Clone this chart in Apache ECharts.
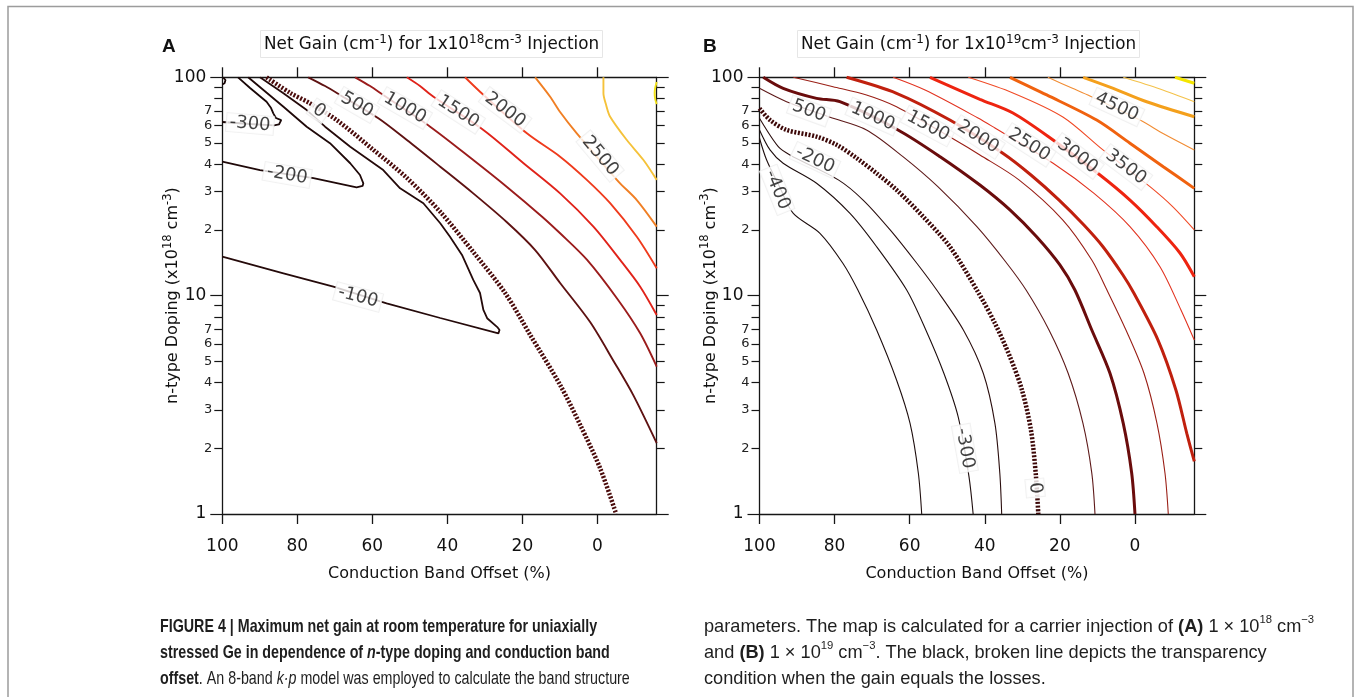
<!DOCTYPE html>
<html>
<head>
<meta charset="utf-8">
<script src="https://cdn.jsdelivr.net/npm/echarts@6/dist/echarts.min.js"></script>
<style>
  html, body { margin: 0; padding: 0; background: #fff; }
  #chart { width: 1356px; height: 697px; }
</style>
</head>
<body>
<div id="chart"></div>
<script>
// ---- axis ticks ----
const X_TICKS = [100, 80, 60, 40, 20, 0];
const Y_MAJOR = [1, 10, 100];
const Y_MINOR = [2, 3, 4, 5, 6, 7, 8, 9, 20, 30, 40, 50, 60, 70, 80, 90];
const Y_MINOR_LABELED = [2, 3, 4, 5, 6, 7, 20, 30, 40, 50, 60, 70];

// ---- panel A: 1e18 cm^-3 injection; points are [band offset %, doping 1e18 cm^-3] ----
const A_N400 = [[99.8,100],[99.15,97.2],[99.4,93.9],[100,92.7]];
const A_N300 = [[95.8,100],[92.6,89.3],[89.4,80.4],[88.2,77.3],[87.0,72.3],[86.4,68.4],[85.7,65.1],[84.3,63.7],[83.8,62.4],[84.9,60.8],[86.2,60.2],[92.6,61.1],[100,62.4]];
const A_N200 = [[100,41.1],[89.95,37.6],[75.7,34.5],[64.2,31.35],[62.6,31.8],[62.4,32.7],[63.3,35.7],[65.9,40.4],[71.3,49.9],[77.5,59.4],[83.7,73.3],[93.1,100]];
const A_N100 = [[100,15.08],[83.7,12.66],[70.4,10.99],[56.2,9.22],[41.9,7.90],[26.4,6.72],[26.1,6.96],[26.7,7.18],[29.4,7.88],[30.4,8.60],[31.3,10.28],[33.1,11.80],[36.1,15.36],[39.3,18.6],[41.9,21.45],[46.4,26.5],[52.6,31.0],[57.1,37.6],[65.9,48.1],[72.6,59.4],[77.5,70.8],[83.8,84.8],[89.95,100]];
const A_Z0 = [[88.2,100],[81.9,84.8],[76.6,76.0],[69.5,63.7],[59.7,46.5],[50.8,34.6],[41.9,24.2],[33.1,15.85],[24.6,10.28],[17.9,6.60],[9.95,3.90],[4.6,2.56],[-0.72,1.62],[-5.0,1.0]];
const A_500 = [[77.1,100],[72.6,91.2],[68.6,83.0],[58.4,64.9],[50.8,51.6],[41.9,38.96],[33.1,29.4],[24.2,21.74],[16.6,16.18],[9.95,11.43],[1.95,7.57],[-4.45,4.97],[-9.52,3.51],[-15.8,2.11]];
const A_1000 = [[64.6,100],[60.6,91.2],[57.1,83.0],[44.6,59.4],[33.1,41.8],[24.2,31.55],[14.75,23.0],[9.95,19.3],[2.75,14.57],[-5.52,9.55],[-11.4,6.72],[-15.8,4.73]];
const A_1500 = [[50.8,100],[47.3,91.2],[43.7,81.5],[30.4,57.4],[19.7,40.4],[9.95,29.4],[1.07,20.7],[-6.05,14.57],[-11.4,10.99],[-15.8,8.15]];
const A_2000 = [[35.3,100],[31.3,85.9],[18.8,55.4],[9.95,43.3],[2.83,33.9],[-3.39,26.5],[-10.5,18.6],[-15.8,13.34]];
const A_2500 = [[16.6,100],[12.6,81.5],[9.95,69.4],[5.5,55.4],[-5.6,33.3],[-10.5,27.4],[-15.8,20.7]];
const A_3000 = [[-1.6,100],[-1.6,84.5],[-2.32,74.7],[-3.39,66.0],[-7.84,51.6],[-12.27,41.8],[-15.8,33.9]];
const A_3500 = [[-15.8,95.2],[-15.39,89.3],[-15.25,84.8],[-15.39,79.6],[-15.8,75.4]];
// contour label anchors: [level, offset %, doping]
const A_LABELS = [[-300,92.6,61.1],[-200,82.7,35.7],[-100,63.8,9.86],[0,74.2,70.1],[500,64.1,74.7],[1000,51.3,72.3],[1500,37.1,69.4],[2000,24.6,70.8],[2500,-0.72,43.6]];

// ---- panel B: 1e19 cm^-3 injection ----
const B_N400 = [[100,52.6],[98.1,41.8],[94.5,31.1],[91.0,23.8],[83.9,19.3],[77.8,14.07],[73.8,10.61],[68.8,6.96],[63.5,4.11],[59.9,2.60],[57.7,1.54],[56.8,1]];
const B_N300 = [[100,57.4],[97.2,46.5],[93.7,40.4],[84.8,32.7],[75.9,23.8],[68.8,16.75],[60.8,10.61],[55.7,6.96],[50.9,4.41],[47.1,2.79],[44.2,1.48],[43.1,1]];
const B_N200 = [[100,64.9],[95.0,48.1],[91.9,44.1],[79.0,33.9],[72.4,27.4],[65.2,20.0],[58.1,14.07],[52.8,10.61],[45.7,6.96],[40.4,4.41],[37.3,2.60],[36.0,1.54],[35.5,1]];
const B_Z0 = [[100,72.1],[97.2,63.7],[92.8,57.4],[84.8,53.5],[79.4,49.0],[74.1,42.6],[68.8,36.3],[63.5,30.5],[56.4,23.0],[49.3,16.75],[41.8,10.39],[37.3,7.47],[33.3,5.25],[30.1,3.70],[27.7,2.42],[26.4,1.51],[25.75,1]];
const B_500 = [[100,89.0],[92.8,77.3],[81.2,65.6],[71.5,57.4],[61.8,43.3],[52.5,31.55],[42.1,20.7],[34.4,14.26],[29.0,10.61],[22.9,6.96],[17.8,4.41],[13.85,2.60],[11.5,1.54],[10.65,1]];
const B_1000 = [[99.0,100],[93.7,89.0],[84.8,80.1],[78.6,77.3],[63.1,57.4],[51.9,43.3],[41.3,32.1],[33.3,24.7],[26.2,18.6],[20.0,13.82],[16.0,10.61],[11.5,6.96],[6.66,4.41],[3.12,2.60],[0.88,1.54],[0,1]];
const B_1500 = [[91.0,100],[80.4,90.6],[71.5,83.0],[63.5,73.3],[47.9,51.6],[41.3,44.1],[30.9,33.9],[19.2,22.2],[11.5,14.57],[7.46,10.61],[2.40,6.96],[-2.40,4.41],[-5.86,2.60],[-7.99,1.54],[-8.87,1]];
const B_2000 = [[76.8,100],[63.5,84.5],[49.3,63.7],[35.2,44.9],[27.7,35.7],[20.2,27.4],[13.6,21.06],[8.52,16.75],[3.20,12.43],[0.27,10.25],[-6.13,6.26],[-10.9,3.70],[-13.8,2.34],[-15.8,1.74]];
const B_2500 = [[64.4,100],[55.9,87.4],[41.8,65.1],[37.3,58.6],[21.8,40.4],[10.9,29.4],[1.33,20.7],[-6.66,13.57],[-12.25,8.60],[-15.8,6.26]];
const B_3000 = [[54.6,100],[41.3,79.3],[32.5,68.6],[21.8,51.6],[9.32,35.7],[1.33,27.4],[-5.78,20.7],[-11.98,15.68],[-15.8,12.21]];
const B_3500 = [[44.4,100],[32.5,84.8],[19.2,65.8],[8.52,46.5],[-3.99,31.55],[-10.1,25.5],[-15.8,20.0]];
const B_4000 = [[33.3,100],[23.5,83.0],[10.2,63.7],[1.33,49.9],[-7.54,38.96],[-15.8,31.0]];
const B_4500 = [[23.2,100],[16.8,89.3],[12.0,82.1],[-1.33,63.7],[-7.72,55.0],[-15.8,46.5]];
const B_5000 = [[13.8,100],[5.78,89.0],[-3.12,77.3],[-15.8,66.0]];
const B_5500 = [[3.12,100],[-6.66,88.4],[-15.8,77.3]];
const B_6000 = [[-10.65,100],[-15.8,93.9]];
const B_LABELS = [[-400,95.3,30.5],[-300,45.3,2.0],[-200,85.2,41.8],[0,26.6,1.316],[500,86.8,70.1],[1000,69.8,66.1],[1500,55.1,59.8],[2000,41.8,53.3],[2500,28.2,49.0],[3000,15.3,43.6],[3500,2.4,38.8],[4500,4.8,73.1]];

// ---- styling ----
const FONT = "'DejaVu Sans', sans-serif";
const SANS = "'Liberation Sans', Arial, sans-serif";
const AX = '#161616';
const X_MIN = -15.8, X_MAX = 100;

const COLOR_A = {'-400':'#1a0808','-300':'#1a0808','-200':'#1f0909','-100':'#250a0a','0':'#4a0b0b','500':'#5e1212','1000':'#9b1c1c','1500':'#e0231a','2000':'#ef3b1d','2500':'#f07f24','3000':'#f5c23a','3500':'#f2e21a'};
const COLOR_B = {'-400':'#1e0e0e','-300':'#1e0e0e','-200':'#2a0e0e','0':'#3d0808','500':'#5e1a1a','1000':'#6a0c0c','1500':'#9a1f16','2000':'#c0200e','2500':'#e2321f','3000':'#ee2410','3500':'#f04a26','4000':'#f0620f','4500':'#f18c33','5000':'#f4a01c','5500':'#f4c24a','6000':'#f5e600'};
const ROT_A = {'-300':-5,'-200':-10,'-100':-15,'0':-35,'500':-30,'1000':-30,'1500':-33,'2000':-37,'2500':-50};
const ROT_B = {'-400':-68,'-300':-80,'-200':-25,'0':-85,'500':-20,'1000':-24,'1500':-28,'2000':-33,'2500':-33,'3000':-37,'3500':-37,'4500':-25};

const A_CONTOURS = [[-400,A_N400],[-300,A_N300],[-200,A_N200],[-100,A_N100],[0,A_Z0],[500,A_500],[1000,A_1000],[1500,A_1500],[2000,A_2000],[2500,A_2500],[3000,A_3000],[3500,A_3500]];
const B_CONTOURS = [[-400,B_N400],[-300,B_N300],[-200,B_N200],[0,B_Z0],[500,B_500],[1000,B_1000],[1500,B_1500],[2000,B_2000],[2500,B_2500],[3000,B_3000],[3500,B_3500],[4000,B_4000],[4500,B_4500],[5000,B_5000],[5500,B_5500],[6000,B_6000]];

function lineStyleFor(panel, level) {
  const col = (panel === 0 ? COLOR_A : COLOR_B)[String(level)];
  if (level === 0) return { color: col, width: 4.5, type: [2, 1.6], cap: 'butt' };
  if (panel === 0) return { color: col, width: level < 0 ? 1.8 : 1.9 };
  const thick = level > 0 && level % 1000 === 0;
  return { color: col, width: thick ? 3 : 1.1 };
}

function contourSeries(panel, list) {
  return list.map(([level, pts]) => ({
    type: 'line', name: 'g' + panel + '_' + level,
    xAxisIndex: 2 * panel, yAxisIndex: 4 * panel,
    data: pts, symbol: 'none', showSymbol: false,
    smooth: (panel === 0 && level < 0) ? false : 0.3,
    lineStyle: lineStyleFor(panel, level),
    silent: true, clip: true, z: 3, animation: false
  }));
}

function labelSeries(panel, labels, rots) {
  return {
    type: 'scatter', xAxisIndex: 2 * panel, yAxisIndex: 4 * panel,
    symbolSize: 1, itemStyle: { color: 'rgba(0,0,0,0)' }, silent: true, z: 10, animation: false,
    data: labels.map(([lv, x, y]) => ({ value: [x, y], label: { formatter: String(lv), rotate: rots[String(lv)] } })),
    label: {
      show: true, position: 'inside', fontSize: 18, color: '#111', fontFamily: FONT,
      backgroundColor: '#fff', borderColor: '#ededed', borderWidth: 1, padding: [0, 3]
    }
  };
}

const SUP_RICH = {
  m: { fontSize: 16, fontFamily: FONT, fontWeight: 'normal', color: '#111', lineHeight: 22 },
  s: { fontSize: 11.5, fontFamily: FONT, fontWeight: 'normal', color: '#111', lineHeight: 13, verticalAlign: 'top' }
};
const TITLE_RICH = {
  m: { fontSize: 16.8, fontFamily: FONT, fontWeight: 'normal', color: '#111', lineHeight: 22 },
  s: { fontSize: 12, fontFamily: FONT, fontWeight: 'normal', color: '#111', lineHeight: 13, verticalAlign: 'top' }
};

function xAxes(g) {
  const base = {
    gridIndex: g, type: 'value', min: X_MIN, max: X_MAX, inverse: true,
    splitLine: { show: false },
    axisLine: { show: true, onZero: false, lineStyle: { color: AX, width: 1.3 } },
    axisTick: { show: true, customValues: X_TICKS, length: 10, lineStyle: { color: AX, width: 1.3 } }
  };
  return [
    Object.assign({}, base, {
      position: 'bottom',
      axisLabel: { show: true, customValues: X_TICKS, fontSize: 17, color: '#111', fontFamily: FONT, margin: 24 },
      name: 'Conduction Band Offset (%)', nameLocation: 'middle', nameGap: 52, nameMoveOverlap: false,
      nameTextStyle: { fontSize: 16, color: '#111', fontFamily: FONT }
    }),
    Object.assign({}, base, { position: 'top', axisLabel: { show: false } })
  ];
}

function yAxes(g) {
  const base = { gridIndex: g, type: 'log', logBase: 10, min: 1, max: 100, splitLine: { show: false } };
  const line = { show: true, onZero: false, lineStyle: { color: AX, width: 1.3 } };
  const tickStyle = { color: AX, width: 1.2 };
  return [
    Object.assign({}, base, {
      position: 'left', axisLine: line,
      axisTick: { show: true, customValues: Y_MAJOR, length: 12, lineStyle: tickStyle },
      axisLabel: { show: true, customValues: Y_MAJOR, fontSize: 17, color: '#111', fontFamily: FONT, margin: 16,
                   formatter: v => String(Math.round(v)) },
      name: '{m|n-type Doping (x10}{s|18}{m| cm}{s|-3}{m|)}', nameLocation: 'middle', nameRotate: 90, nameGap: 38,
      nameMoveOverlap: false,
      nameTextStyle: { rich: SUP_RICH }
    }),
    Object.assign({}, base, {
      position: 'left', axisLine: { show: false, onZero: false },
      axisTick: { show: true, customValues: Y_MINOR, length: 8, lineStyle: tickStyle },
      axisLabel: { show: true, customValues: Y_MINOR_LABELED, fontSize: 13, color: '#222', fontFamily: FONT, margin: 10,
                   formatter: v => { const r = Math.round(v); return String(r < 10 ? r : r / 10); } }
    }),
    Object.assign({}, base, {
      position: 'right', axisLine: line,
      axisTick: { show: true, customValues: Y_MAJOR, length: 12, lineStyle: tickStyle },
      axisLabel: { show: false }
    }),
    Object.assign({}, base, {
      position: 'right', axisLine: { show: false, onZero: false },
      axisTick: { show: true, customValues: Y_MINOR, length: 8, lineStyle: tickStyle },
      axisLabel: { show: false }
    })
  ];
}

function panelTitle(left, inj) {
  return {
    left: left, top: 30, padding: [4, 4],
    text: '{m|Net Gain (cm}{s|-1}{m|) for 1x10}{s|' + inj + '}{m|cm}{s|-3}{m| Injection}',
    textStyle: { fontWeight: 'normal', rich: TITLE_RICH },
    backgroundColor: '#fff', borderColor: '#e6e6e6', borderWidth: 1
  };
}

const CAP_L = '{b|FIGURE 4 | Maximum net gain at room temperature for uniaxially}\n' +
              '{b|stressed Ge in dependence of }{bi|n}{b|-type doping and conduction band}\n' +
              '{b|offset}{r|. An 8-band }{i|k\u00b7p}{r| model was employed to calculate the band structure}';
const CAP_R = '{r|parameters. The map is calculated for a carrier injection of }{b|(A)}{r| 1 \u00d7 10}{s|18}{r| cm}{s|\u22123}\n' +
              '{r|and }{b|(B)}{r| 1 \u00d7 10}{s|19}{r| cm}{s|\u22123}{r|. The black, broken line depicts the transparency}\n' +
              '{r|condition when the gain equals the losses.}';

function capRich(size) {
  const c = '#1e1e1e';
  return {
    b: { fontFamily: SANS, fontSize: size, fontWeight: 'bold', fill: c, lineHeight: 26 },
    bi: { fontFamily: SANS, fontSize: size, fontWeight: 'bold', fontStyle: 'italic', fill: c, lineHeight: 26 },
    r: { fontFamily: SANS, fontSize: size, fill: c, lineHeight: 26 },
    i: { fontFamily: SANS, fontSize: size, fontStyle: 'italic', fill: c, lineHeight: 26 },
    s: { fontFamily: SANS, fontSize: size * 0.62, fill: c, lineHeight: 17, verticalAlign: 'top' }
  };
}

const option = {
  animation: false,
  backgroundColor: '#fff',
  textStyle: { fontFamily: FONT },
  title: [panelTitle(260, '18'), panelTitle(797, '19')],
  grid: [
    { left: 222.3, top: 77.3, width: 434.4, height: 436.7, outerBoundsMode: 'none', containLabel: false },
    { left: 759.5, top: 77.3, width: 434.8, height: 436.7, outerBoundsMode: 'none', containLabel: false }
  ],
  xAxis: xAxes(0).concat(xAxes(1)),
  yAxis: yAxes(0).concat(yAxes(1)),
  series: contourSeries(0, A_CONTOURS)
    .concat(contourSeries(1, B_CONTOURS))
    .concat([labelSeries(0, A_LABELS, ROT_A), labelSeries(1, B_LABELS, ROT_B)]),
  graphic: [
    { type: 'rect', silent: true, shape: { x: 8, y: 6.5, width: 1345, height: 700 },
      style: { fill: 'none', stroke: '#9c9c9c', lineWidth: 1.5 } },
    { type: 'text', silent: true, left: 162, top: 37,
      style: { text: 'A', fontFamily: SANS, fontSize: 19, fontWeight: 'bold', fill: '#111' } },
    { type: 'text', silent: true, left: 703, top: 37,
      style: { text: 'B', fontFamily: SANS, fontSize: 19, fontWeight: 'bold', fill: '#111' } },
    // left caption column is set condensed
    { type: 'text', silent: true, x: 160, y: 614, scaleX: 0.785, scaleY: 1,
      style: { text: CAP_L, rich: capRich(18.2), fill: '#1e1e1e' } },
    { type: 'text', silent: true, x: 704, y: 614,
      style: { text: CAP_R, rich: capRich(18.2), fill: '#1e1e1e' } }
  ]
};

const chart = echarts.init(document.getElementById('chart'), null, { renderer: 'canvas' });
chart.setOption(option);
</script>
</body>
</html>
